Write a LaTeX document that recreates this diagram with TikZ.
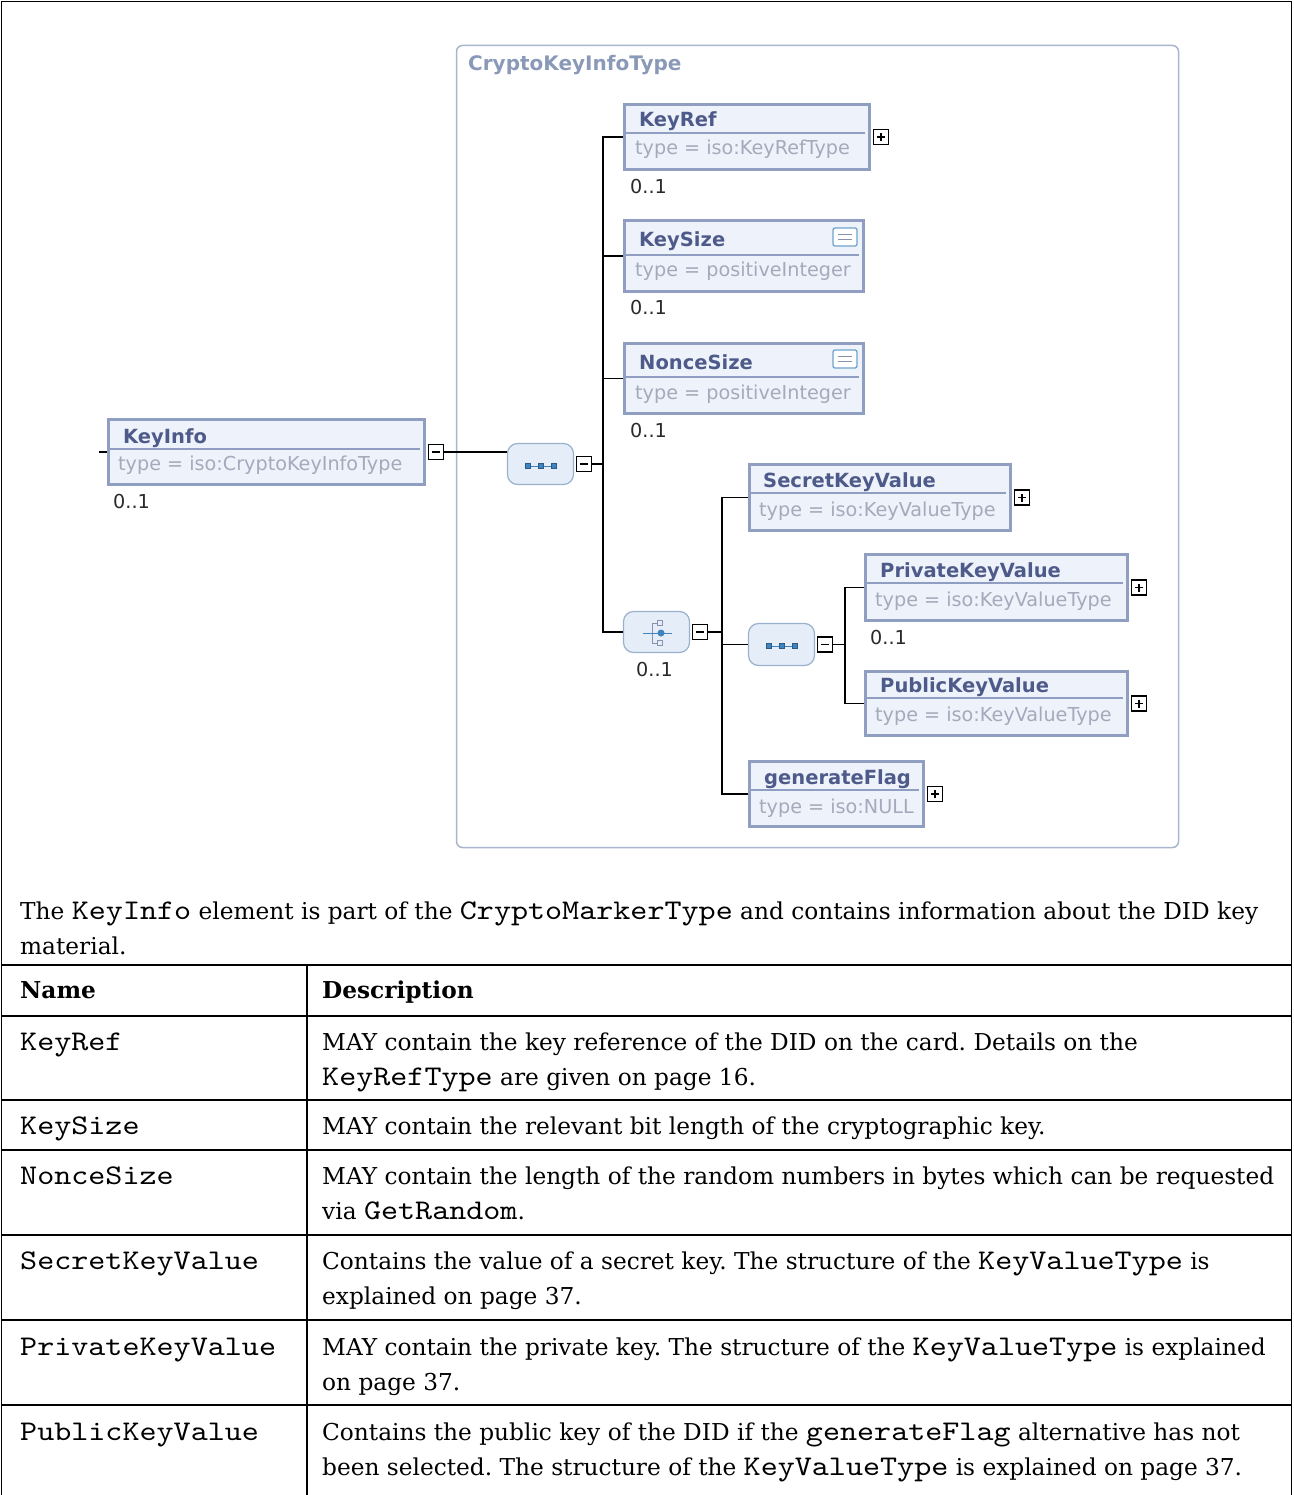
\documentclass[tikz,border=0pt]{standalone}
\usepackage{fontspec}
\setmainfont{DejaVu Serif}
\setsansfont{DejaVu Sans}
\setmonofont[FakeStretch=1.14]{lmmono10-regular.otf}
\usepackage{xcolor}
\usepackage{tikz}
\usetikzlibrary{calc}
\frenchspacing
\definecolor{XSBorder} {HTML}{909FC1}
\definecolor{XSFill}   {HTML}{EEF2FA}
\definecolor{XSTitle}  {HTML}{4E5B8A}
\definecolor{XSType}   {HTML}{A3AABB}
\definecolor{XSFrame}  {HTML}{A9B5CC}
\definecolor{XSLabel}  {HTML}{8A99B7}
\definecolor{XSCompBd} {HTML}{9BB0CC}
\definecolor{XSCompFl} {HTML}{E5EEF8}
\definecolor{XSIcon}   {HTML}{3F84BE}
\definecolor{XSIconGy} {HTML}{8593AE}
\definecolor{XSOccur}  {HTML}{2A2A2A}
\newcommand{\xsfont}{\sffamily\fontsize{19.2}{22}\selectfont}
\newcommand{\xsbold}{\sffamily\bfseries\fontsize{19.5}{22}\selectfont}
\newcommand{\docfont}{\rmfamily\fontsize{23.25}{35}\selectfont}
\newcommand{\docbold}{\rmfamily\bfseries\fontsize{23.25}{35}\selectfont}
\newcommand{\code}[1]{{\ttfamily\fontsize{28.5}{35}\selectfont #1}}
\tikzset{
  elem/.style={draw=XSBorder,line width=3pt,fill=XSFill,inner sep=0pt},
  elemsep/.style={draw=XSBorder,line width=1.5pt},
  elemname/.style={font=\xsbold,text=XSTitle,anchor=base west,inner sep=0pt},
  elemtype/.style={font=\xsfont,text=XSType,anchor=base west,inner sep=0pt},
  occurs/.style={font=\xsfont,text=XSOccur,anchor=base west,inner sep=0pt},
  compbox/.style={draw=XSCompBd,fill=XSCompFl,line width=1.2pt,rounded corners=10pt,
                  minimum width=66,minimum height=41,inner sep=0pt},
  togbox/.style={draw=black,fill=white,line width=1.5pt,minimum size=15,inner sep=0pt,anchor=west},
  minusbox/.style={togbox,path picture={
      \draw[line width=1.5pt] ([xshift=3.5pt]path picture bounding box.west)
                              -- ([xshift=-3.5pt]path picture bounding box.east);}},
  plusbox/.style={togbox,path picture={
      \draw[line width=1.5pt] ([xshift=3.5pt]path picture bounding box.west)
                              -- ([xshift=-3.5pt]path picture bounding box.east);
      \draw[line width=1.5pt] ([yshift=-3.5pt]path picture bounding box.north)
                              -- ([yshift=3.5pt]path picture bounding box.south);}},
  simpicon/.style={draw=XSIcon!75!white,fill=white,line width=1.3pt,rounded corners=2pt,
                   minimum width=24,minimum height=18,inner sep=0pt,path picture={
      \draw[XSIconGy,line width=1.1pt] ([xshift=-7pt,yshift=-2.5pt]path picture bounding box.center)
                                       -- ++(14pt,0pt);
      \draw[XSIconGy,line width=1.1pt] ([xshift=-7pt,yshift=2.5pt]path picture bounding box.center)
                                       -- ++(14pt,0pt);}},
  seqdot/.style={fill=XSIcon,draw=XSIcon!70!black,line width=0.6pt},
  wire/.style={black,line width=1.5pt},
  tabline/.style={black,line width=1.6pt},
  tabtext/.style={font=\docfont,anchor=base west,inner sep=0pt},
  tabhead/.style={font=\docbold,anchor=base west,inner sep=0pt},
  tabname/.style={font=\ttfamily\fontsize{28.5}{35}\selectfont,anchor=base west,inner sep=0pt}
}

\begin{document}
\begin{tikzpicture}[x=1pt,y=-1pt]
    \useasboundingbox (0,0) rectangle (1293,1495);
    % CryptoKeyInfoType frame
    \node[draw=XSFrame,line width=1.5pt,rounded corners=6pt,minimum width=722,minimum height=802,inner sep=0pt]
      (ckit) at (817.5,446.5) {};
    \node[font=\xsbold\fontsize{20}{22}\selectfont,text=XSLabel,anchor=base west,inner sep=0pt] (ckit-label) at (468,71) {CryptoKeyInfoType};
    % KeyInfo
    \node[elem,minimum width=316,minimum height=65] (keyinfo) at (266.5,452) {};
    \draw[elemsep] (108,449) -- (420,449);
    \node[elemname] (keyinfo-name) at (123,443) {KeyInfo};
    \node[elemtype] (keyinfo-type) at (118,470) {type = iso:CryptoKeyInfoType};
    \node[occurs]   (keyinfo-occ)  at (113,508) {0..1};
    \node[minusbox] (keyinfo-tog)  at ([xshift=1.5pt]keyinfo.east) {};
    % sequence
    \node[compbox] (seqa) at (540.5,464) {};
    \draw[XSIcon,line width=1pt] (528,466) -- (554,466);
    \draw[seqdot] (525.5,463.5) rectangle (530.5,468.5) (538.5,463.5) rectangle (543.5,468.5) (551.5,463.5) rectangle (556.5,468.5);
    \node[minusbox] (seqa-tog) at ([xshift=1.5pt]seqa.east) {};
    % KeyRef
    \node[elem,minimum width=245,minimum height=65] (keyref) at (747,137) {};
    \draw[elemsep] (624,133) -- (865,133);
    \node[elemname] (keyref-name) at (639,127) {KeyRef};
    \node[elemtype] (keyref-type) at (635,155) {type = iso:KeyRefType};
    \node[occurs]   (keyref-occ)  at (630,194) {0..1};
    \node[plusbox]  (keyref-tog)  at ([xshift=1.5pt]keyref.east) {};
    % KeySize
    \node[elem,minimum width=239,minimum height=71] (keysize) at (744,256) {};
    \draw[elemsep] (624,255) -- (859,255);
    \node[elemname] (keysize-name) at (639,247) {KeySize};
    \node[elemtype] (keysize-type) at (635,277) {type = positiveInteger};
    \node[occurs]   (keysize-occ)  at (630,315) {0..1};
    \node[simpicon] (keysize-icon) at (845,237) {};
    % NonceSize
    \node[elem,minimum width=239,minimum height=70] (noncesize) at (744,378.5) {};
    \draw[elemsep] (624,377) -- (859,377);
    \node[elemname] (noncesize-name) at (639,369) {NonceSize};
    \node[elemtype] (noncesize-type) at (635,399) {type = positiveInteger};
    \node[occurs]   (noncesize-occ)  at (630,437) {0..1};
    \node[simpicon] (noncesize-icon) at (845,359) {};
    % choice
    \node[compbox] (choice) at (656.5,632) {};
    \draw[XSIconGy,line width=1pt] (658,623) -- (652,623) -- (652,643) -- (658,643);
    \draw[XSIcon,line width=1pt] (643,633) -- (672,633);
    \draw[XSIconGy,line width=0.8pt,fill=XSCompFl] (657,620.5) rectangle (662,625.5) (657,640.5) rectangle (662,645.5);
    \fill[XSIcon] (661,633) circle (3.5pt);
    \node[occurs]   (choice-occ) at (636,676) {0..1};
    \node[minusbox] (choice-tog) at ([xshift=1.5pt]choice.east) {};
    % SecretKeyValue
    \node[elem,minimum width=261,minimum height=66] (secret) at (880,497.5) {};
    \draw[elemsep] (749,493) -- (1006,493);
    \node[elemname] (secret-name) at (763,487) {SecretKeyValue};
    \node[elemtype] (secret-type) at (759,516) {type = iso:KeyValueType};
    \node[plusbox]  (secret-tog)  at ([xshift=1.5pt]secret.east) {};
    % sequence
    \node[compbox,minimum height=42] (seqb) at (781.5,644.5) {};
    \draw[XSIcon,line width=1pt] (769,646) -- (795,646);
    \draw[seqdot] (766.5,643.5) rectangle (771.5,648.5) (779.5,643.5) rectangle (784.5,648.5) (792.5,643.5) rectangle (797.5,648.5);
    \node[minusbox] (seqb-tog) at ([xshift=1.5pt]seqb.east) {};
    % PrivateKeyValue
    \node[elem,minimum width=262,minimum height=66] (private) at (996.5,587.5) {};
    \draw[elemsep] (865,583) -- (1123,583);
    \node[elemname] (private-name) at (880,577) {PrivateKeyValue};
    \node[elemtype] (private-type) at (875,606) {type = iso:KeyValueType};
    \node[occurs]   (private-occ)  at (870,644) {0..1};
    \node[plusbox]  (private-tog)  at ([xshift=1.5pt]private.east) {};
    % PublicKeyValue
    \node[elem,minimum width=262,minimum height=64] (public) at (996.5,703.5) {};
    \draw[elemsep] (865,698) -- (1123,698);
    \node[elemname] (public-name) at (880,692) {PublicKeyValue};
    \node[elemtype] (public-type) at (875,721) {type = iso:KeyValueType};
    \node[plusbox]  (public-tog)  at ([xshift=1.5pt]public.east) {};
    % generateFlag
    \node[elem,minimum width=174,minimum height=65] (genflag) at (836.5,794) {};
    \draw[elemsep] (749,790) -- (919,790);
    \node[elemname] (genflag-name) at (764,784) {generateFlag};
    \node[elemtype] (genflag-type) at (759,813) {type = iso:NULL};
    \node[plusbox]  (genflag-tog)  at ([xshift=1.5pt]genflag.east) {};
    % connectors
    \coordinate (keyinfo-in) at (99,452);
    \coordinate (busa) at (603,400);
    \coordinate (busb) at (722,640);
    \coordinate (busc) at (845,640);
    \draw[wire] (keyinfo-in) -- (keyinfo.west);
    \draw[wire] (keyinfo-tog.east) -- (keyinfo-tog.east -| seqa.west);
    \draw[wire] (seqa-tog.east) -- (seqa-tog.east -| busa);
    \draw[wire] (keyref.west) -| (busa) |- (choice.west);
    \draw[wire] (keysize.west) -- (keysize.west -| busa);
    \draw[wire] (noncesize.west) -- (noncesize.west -| busa);
    \draw[wire] (choice-tog.east) -- (choice-tog.east -| busb);
    \draw[wire] (secret.west) -| (busb) |- (genflag.west);
    \draw[wire] (seqb.west) -- (seqb.west -| busb);
    \draw[wire] (seqb-tog.east) -- (seqb-tog.east -| busc);
    \draw[wire] (private.west) -| (busc) |- (public.west);
    % table rules
    \draw[tabline] (1.5,1495) -- (1.5,1.5) -- (1291.5,1.5) -- (1291.5,1495);
    \draw[tabline] (1.5,965) -- (1291.5,965);
    \draw[tabline] (1.5,1016) -- (1291.5,1016);
    \draw[tabline] (1.5,1100) -- (1291.5,1100);
    \draw[tabline] (1.5,1150) -- (1291.5,1150);
    \draw[tabline] (1.5,1235) -- (1291.5,1235);
    \draw[tabline] (1.5,1320) -- (1291.5,1320);
    \draw[tabline] (1.5,1405) -- (1291.5,1405);
    \draw[tabline] (307,965) -- (307,1495);
    % intro text
    \node[tabtext] (intro-a) at (20,919) {The \code{KeyInfo} element is part of the \code{CryptoMarkerType} and contains information about the DID key};
    \node[tabtext] (intro-b) at (20,954) {material.};
    % header
    \node[tabhead] (head-name) at (20,998) {Name};
    \node[tabhead] (head-desc) at (322,998) {Description};
    % KeyRef row
    \node[tabname] (row-keyref) at (20,1050) {KeyRef};
    \node[tabtext] (desc-keyref-a) at (322,1050) {MAY contain the key reference of the DID on the card. Details on the};
    \node[tabtext] (desc-keyref-b) at (322,1085) {\code{KeyRefType} are given on page 16.};
    % KeySize row
    \node[tabname] (row-keysize) at (20,1134) {KeySize};
    \node[tabtext] (desc-keysize) at (322,1134) {MAY contain the relevant bit length of the cryptographic key.};
    % NonceSize row
    \node[tabname] (row-noncesize) at (20,1184) {NonceSize};
    \node[tabtext] (desc-noncesize-a) at (322,1184) {MAY contain the length of the random numbers in bytes which can be requested};
    \node[tabtext] (desc-noncesize-b) at (322,1219) {via \code{GetRandom}.};
    % SecretKeyValue row
    \node[tabname] (row-secret) at (20,1269) {SecretKeyValue};
    \node[tabtext] (desc-secret-a) at (322,1269) {Contains the value of a secret key. The structure of the \code{KeyValueType} is};
    \node[tabtext] (desc-secret-b) at (322,1304) {explained on page 37.};
    % PrivateKeyValue row
    \node[tabname] (row-private) at (20,1355) {PrivateKeyValue};
    \node[tabtext] (desc-private-a) at (322,1355) {MAY contain the private key. The structure of the \code{KeyValueType} is explained};
    \node[tabtext] (desc-private-b) at (322,1390) {on page 37.};
    % PublicKeyValue row
    \node[tabname] (row-public) at (20,1440) {PublicKeyValue};
    \node[tabtext] (desc-public-a) at (322,1440) {Contains the public key of the DID if the \code{generateFlag} alternative has not};
    \node[tabtext] (desc-public-b) at (322,1475) {been selected. The structure of the \code{KeyValueType} is explained on page 37.};
  \end{tikzpicture}
\end{document}
